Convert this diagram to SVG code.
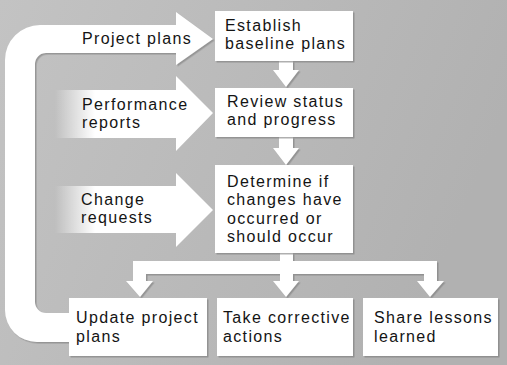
<svg xmlns="http://www.w3.org/2000/svg" width="507" height="365" viewBox="0 0 507 365">
<defs>
<linearGradient id="bg" x1="0" y1="0" x2="1" y2="0.3">
<stop offset="0" stop-color="#c3c3c3"/>
<stop offset="1" stop-color="#b1b1b1"/>
</linearGradient>
<linearGradient id="fadeP" gradientUnits="userSpaceOnUse" x1="55" y1="0" x2="95" y2="0">
<stop offset="0" stop-color="#ffffff" stop-opacity="0"/>
<stop offset="1" stop-color="#ffffff" stop-opacity="1"/>
</linearGradient>
<filter id="sh" x="-10%" y="-10%" width="120%" height="120%">
<feDropShadow dx="1.5" dy="1.5" stdDeviation="0.7" flood-color="#7a7a7a" flood-opacity="0.6"/>
</filter>
<style>
.box{fill:#ffffff;filter:url(#sh);}
.arr{fill:#ffffff;filter:url(#sh);}
.fade{fill:url(#fadeP);}
text{font-family:"Liberation Sans",Arial,sans-serif;font-size:16px;fill:#141414;letter-spacing:1.35px;}
</style>
</defs>
<rect width="507" height="365" fill="url(#bg)"/>
<g id="connectors">
<path class="arr" d="M 69 342 L 37 342 A 32 32 0 0 1 5 310 L 5 60 A 35 35 0 0 1 40 25 L 176 25 L 176 12 L 213 39 L 176 65 L 176 53 L 46 53 A 11 11 0 0 0 35 64 L 35 302 A 11 11 0 0 0 46 313 L 69 313 Z"/>
<path class="fade" d="M 55 90 L 176 90 L 176 76 L 213 113 L 176 151 L 176 138 L 55 138 Z"/>
<path class="fade" d="M 55 186 L 176 186 L 176 173 L 213 210 L 176 247 L 176 233 L 55 233 Z"/>
<path class="arr" d="M 279 61 L 293 61 L 293 70 L 299 70 L 286 87 L 273 70 L 279 70 Z"/>
<path class="arr" d="M 279 137 L 293 137 L 293 148 L 299 148 L 286 165 L 273 148 L 279 148 Z"/>
<path class="arr" d="M 280 253 L 293 253 L 293 261 L 437 261 L 437 281 L 444 281 L 430 297 L 417 281 L 424 281 L 424 274 L 293 274 L 293 281 L 299 281 L 286 297 L 273 281 L 280 281 L 280 274 L 146 274 L 146 281 L 153 281 L 140 297 L 126 281 L 133 281 L 133 261 L 280 261 Z"/>
</g>
<g id="lbl-project-plans"><text x="82" y="44">Project plans</text></g>
<g id="lbl-performance"><text x="82" y="110">Performance<tspan x="82" dy="18">reports</tspan></text></g>
<g id="lbl-change"><text x="81" y="205">Change<tspan x="81" dy="18">requests</tspan></text></g>
<g id="n-establish"><rect class="box" x="215" y="11" width="138" height="50"/><text x="225" y="31">Establish<tspan x="225" dy="18">baseline plans</tspan></text></g>
<g id="n-review"><rect class="box" x="215" y="88" width="138" height="49"/><text x="227" y="107">Review status<tspan x="227" dy="18">and progress</tspan></text></g>
<g id="n-determine"><rect class="box" x="215" y="165" width="138" height="88"/><text x="227" y="187">Determine if<tspan x="227" dy="18.3">changes have</tspan><tspan x="227" dy="18.3">occurred or</tspan><tspan x="227" dy="18.4">should occur</tspan></text></g>
<g id="n-update"><rect class="box" x="69" y="298" width="138" height="58"/><text x="76" y="323">Update project<tspan x="76" dy="19">plans</tspan></text></g>
<g id="n-take"><rect class="box" x="217" y="298" width="136" height="58"/><text x="223" y="323">Take corrective<tspan x="223" dy="19">actions</tspan></text></g>
<g id="n-share"><rect class="box" x="363" y="298" width="135" height="58"/><text x="374" y="323">Share lessons<tspan x="374" dy="19">learned</tspan></text></g>
</svg>
